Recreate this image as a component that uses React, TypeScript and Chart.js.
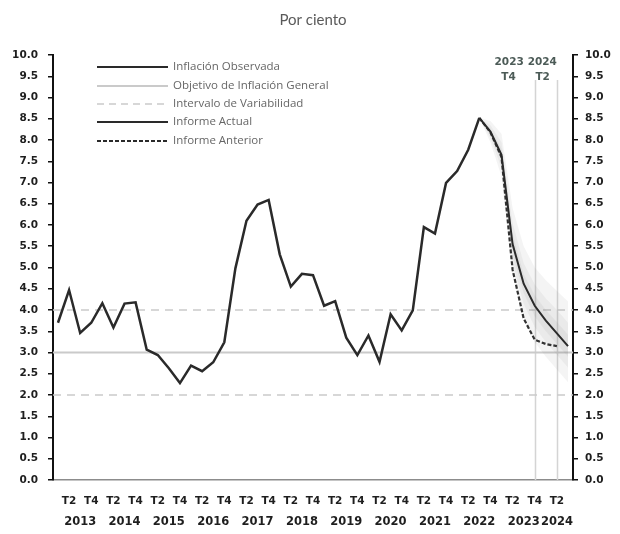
import React, { useEffect, useRef } from 'react';
import { Chart, registerables } from 'chart.js';

Chart.register(...registerables);

// ---------- data ----------
const years: string[] = ['2013', '2014', '2015', '2016', '2017', '2018', '2019', '2020', '2021', '2022', '2023', '2024'];
const quarterNames: string[] = ['T1', 'T2', 'T3', 'T4'];
const lastQuarter = '2024T3';

// Inflación observada (promedio trimestral), 2013T1 - 2022T3
const observed: number[] = [
  3.70, 4.47, 3.46, 3.70,
  4.16, 3.59, 4.15, 4.18,
  3.07, 2.94, 2.63, 2.28,
  2.69, 2.56, 2.77, 3.24,
  4.98, 6.10, 6.48, 6.59,
  5.31, 4.55, 4.85, 4.82,
  4.10, 4.21, 3.35, 2.94,
  3.40, 2.78, 3.90, 3.52,
  3.99, 5.95, 5.80, 6.99,
  7.27, 7.77, 8.52,
];

const forecastStartQuarter = '2022T3';
// Informe Actual, 2022T3 - 2024T3
const informeActual: number[] = [8.52, 8.2, 7.65, 5.55, 4.62, 4.1, 3.75, 3.45, 3.15];
// Informe Anterior, 2022T3 - 2024T2
const informeAnterior: number[] = [8.52, 8.18, 7.6, 4.95, 3.8, 3.3, 3.2, 3.15];

// Fan chart bands, 2022T3 - 2024T3
const fanOuterUpper: number[] = [8.52, 8.45, 8.15, 6.4, 5.5, 5.0, 4.7, 4.45, 4.2];
const fanOuterLower: number[] = [8.52, 7.95, 7.15, 4.8, 3.8, 3.25, 2.9, 2.6, 2.3];
const fanMidUpper: number[] = [8.52, 8.35, 7.95, 6.05, 5.1, 4.6, 4.27, 4.0, 3.7];
const fanMidLower: number[] = [8.52, 8.05, 7.35, 5.1, 4.15, 3.6, 3.25, 2.95, 2.65];
const fanInnerUpper: number[] = [8.52, 8.27, 7.8, 5.8, 4.85, 4.35, 4.0, 3.72, 3.42];
const fanInnerLower: number[] = [8.52, 8.13, 7.5, 5.3, 4.4, 3.85, 3.5, 3.2, 2.9];

const targetValue = 3.0;
const intervalLow = 2.0;
const intervalHigh = 4.0;

const markerQuarters: string[] = ['2023T4', '2024T2'];

const titleText = 'Por ciento';
const legendLabels: string[] = [
  'Inflación Observada',
  'Objetivo de Inflación General',
  'Intervalo de Variabilidad',
  'Informe Actual',
  'Informe Anterior',
];

// ---------- derived ----------
const quarters: string[] = [];
for (const y of years) {
  for (const q of quarterNames) {
    if (quarters.length && quarters[quarters.length - 1] === lastQuarter) break;
    quarters.push(y + q);
  }
}
const forecastStart = quarters.indexOf(forecastStartQuarter);
const toPoints = (values: number[], start: number) => values.map((v, j) => ({ x: start + j, y: v }));

const xMin = -0.45;
const xMax = quarters.length - 1 + 0.45;

const tickIndices: number[] = quarters
  .map((q, i) => ({ q, i }))
  .filter((o) => o.q.endsWith('T2') || o.q.endsWith('T4'))
  .map((o) => o.i);

const DARK = '#2a2a2a';
const LIGHT = '#cacaca';
const TICK_FONT = { family: 'DejaVu Sans', size: 10.5, weight: 'bold' as const };

const hLine = (v: number) => [{ x: xMin, y: v }, { x: xMax, y: v }];

const overlayPlugin = {
  id: 'overlay',
  beforeDatasetsDraw(chart: any) {
    const { ctx, chartArea, scales } = chart;
    const xs = scales.x;
    ctx.save();
    ctx.strokeStyle = '#d4d4d4';
    ctx.lineWidth = 1.5;
    for (const mq of markerQuarters) {
      const px = Math.round(xs.getPixelForValue(quarters.indexOf(mq))) + 0.5;
      ctx.beginPath();
      ctx.moveTo(px, 80);
      ctx.lineTo(px, chartArea.bottom);
      ctx.stroke();
    }
    ctx.restore();
  },
  afterDraw(chart: any) {
    const { ctx, chartArea, scales } = chart;
    const xs = scales.x;
    ctx.save();
    // title
    ctx.fillStyle = '#5a5a5a';
    ctx.font = '15px Lato';
    ctx.textAlign = 'center';
    ctx.textBaseline = 'middle';
    ctx.fillText(titleText, (chartArea.left + chartArea.right) / 2, 20);

    // marker labels
    ctx.fillStyle = '#4c5b57';
    ctx.font = 'bold 10.5px "DejaVu Sans"';
    ctx.textAlign = 'right';
    const m0 = xs.getPixelForValue(quarters.indexOf(markerQuarters[0]));
    const m1 = xs.getPixelForValue(quarters.indexOf(markerQuarters[1]));
    ctx.fillText(markerQuarters[0].slice(0, 4), m0 - 11, 62);
    ctx.fillText(markerQuarters[0].slice(4), m0 - 19, 77);
    ctx.fillText(markerQuarters[1].slice(0, 4), m1, 62);
    ctx.fillText(markerQuarters[1].slice(4), m1 - 7, 77);

    // year labels
    ctx.fillStyle = '#1e1e1e';
    ctx.font = 'bold 11.5px "DejaVu Sans"';
    ctx.textAlign = 'center';
    for (const y of years) {
      const idx = tickIndices.filter((i) => quarters[i].startsWith(y));
      if (!idx.length) continue;
      const c = idx.reduce((a, b) => a + b, 0) / idx.length;
      ctx.fillText(y, xs.getPixelForValue(c), 522);
    }

    // legend
    const styles = [
      { color: DARK, width: 2, dash: [] as number[] },
      { color: LIGHT, width: 2, dash: [] as number[] },
      { color: LIGHT, width: 1.5, dash: [7, 5] },
      { color: DARK, width: 2, dash: [] as number[] },
      { color: DARK, width: 1.8, dash: [4, 2] },
    ];
    const rowY = [67, 86, 104, 122, 141];
    ctx.font = '11.5px "Open Sans"';
    ctx.textAlign = 'left';
    ctx.textBaseline = 'middle';
    legendLabels.forEach((lab, k) => {
      const st = styles[k];
      ctx.strokeStyle = st.color;
      ctx.lineWidth = st.width;
      ctx.setLineDash(st.dash);
      ctx.beginPath();
      ctx.moveTo(97, rowY[k]);
      ctx.lineTo(168, rowY[k]);
      ctx.stroke();
      ctx.setLineDash([]);
      ctx.fillStyle = '#666';
      ctx.fillText(lab, 173, rowY[k]);
    });
    ctx.restore();
  },
};

export default function App() {
  const ref = useRef<HTMLCanvasElement>(null);
  useEffect(() => {
    if (!ref.current) return;
    const fanColor = 'rgba(105,105,105,0.075)';
    const band = (data: number[], fill: any) => ({
      data: toPoints(data, forecastStart),
      borderWidth: 0,
      pointRadius: 0,
      backgroundColor: fanColor,
      borderColor: 'rgba(0,0,0,0)',
      fill,
    });
    const chart = new Chart(ref.current, {
      type: 'line',
      data: {
        datasets: [
          {
            label: 'Inflación Observada',
            data: toPoints(observed, 0),
            borderColor: DARK,
            borderWidth: 2.5,
            pointRadius: 0,
            fill: false,
          },
          {
            label: 'Informe Actual',
            data: toPoints(informeActual, forecastStart),
            borderColor: DARK,
            borderWidth: 2,
            pointRadius: 0,
            fill: false,
          },
          {
            label: 'Informe Anterior',
            data: toPoints(informeAnterior, forecastStart),
            borderColor: '#333',
            borderWidth: 2.2,
            borderDash: [4, 2],
            pointRadius: 0,
            fill: false,
          },
          band(fanInnerUpper, '+1'),
          band(fanInnerLower, false),
          band(fanMidUpper, '+1'),
          band(fanMidLower, false),
          band(fanOuterUpper, '+1'),
          band(fanOuterLower, false),
          {
            label: 'Objetivo',
            data: hLine(targetValue),
            borderColor: LIGHT,
            borderWidth: 2,
            pointRadius: 0,
            fill: false,
          },
          {
            label: 'Intervalo alto',
            data: hLine(intervalHigh),
            borderColor: LIGHT,
            borderWidth: 1.5,
            borderDash: [8, 6],
            pointRadius: 0,
            fill: false,
          },
          {
            label: 'Intervalo bajo',
            data: hLine(intervalLow),
            borderColor: LIGHT,
            borderWidth: 1.5,
            borderDash: [8, 6],
            pointRadius: 0,
            fill: false,
          },
        ] as any,
      },
      options: {
        animation: false,
        responsive: false,
        events: [],
        layout: { padding: { top: 55, left: 0, right: 0, bottom: 0 } },
        plugins: {
          legend: { display: false },
          tooltip: { enabled: false },
          title: { display: false },
        },
        scales: {
          x: {
            type: 'linear',
            min: xMin,
            max: xMax,
            afterBuildTicks: (s: any) => {
              s.ticks = tickIndices.map((v) => ({ value: v }));
            },
            afterFit: (s: any) => {
              s.height = 54;
            },
            grid: { display: true, drawOnChartArea: false, drawTicks: false },
            border: { display: true, color: '#8c8c8c', width: 1.5 },
            ticks: {
              autoSkip: false,
              maxRotation: 0,
              minRotation: 0,
              padding: 15,
              color: '#1e1e1e',
              font: TICK_FONT,
              callback: (v: any) => {
                const q = quarters[Math.round(Number(v))];
                return q ? q.slice(4) : '';
              },
            },
          },
          y: {
            position: 'left',
            min: 0,
            max: 10,
            afterFit: (s: any) => {
              s.width = 53;
            },
            grid: { display: true, drawOnChartArea: false, drawTicks: true, tickLength: 5, color: '#111', lineWidth: 1.5 },
            border: { display: true, color: '#111', width: 2 },
            ticks: {
              stepSize: 0.5,
              autoSkip: false,
              padding: 10,
              color: '#1e1e1e',
              font: TICK_FONT,
              callback: (v: any) => Number(v).toFixed(1),
            },
          },
          y2: {
            position: 'right',
            min: 0,
            max: 10,
            afterFit: (s: any) => {
              s.width = 47;
            },
            grid: { display: true, drawOnChartArea: false, drawTicks: true, tickLength: 5, color: '#111', lineWidth: 1.5 },
            border: { display: true, color: '#111', width: 2 },
            ticks: {
              stepSize: 0.5,
              autoSkip: false,
              padding: 7,
              color: '#1e1e1e',
              font: TICK_FONT,
              callback: (v: any) => Number(v).toFixed(1),
            },
          },
        },
      } as any,
      plugins: [overlayPlugin],
    });
    return () => chart.destroy();
  }, []);
  return (
    <div style={{ position: 'absolute', left: 0, top: 0, width: 620, height: 534, background: '#fff' }}>
      <canvas ref={ref} width={620} height={534} style={{ display: 'block', width: 620, height: 534 }} />
    </div>
  );
}
